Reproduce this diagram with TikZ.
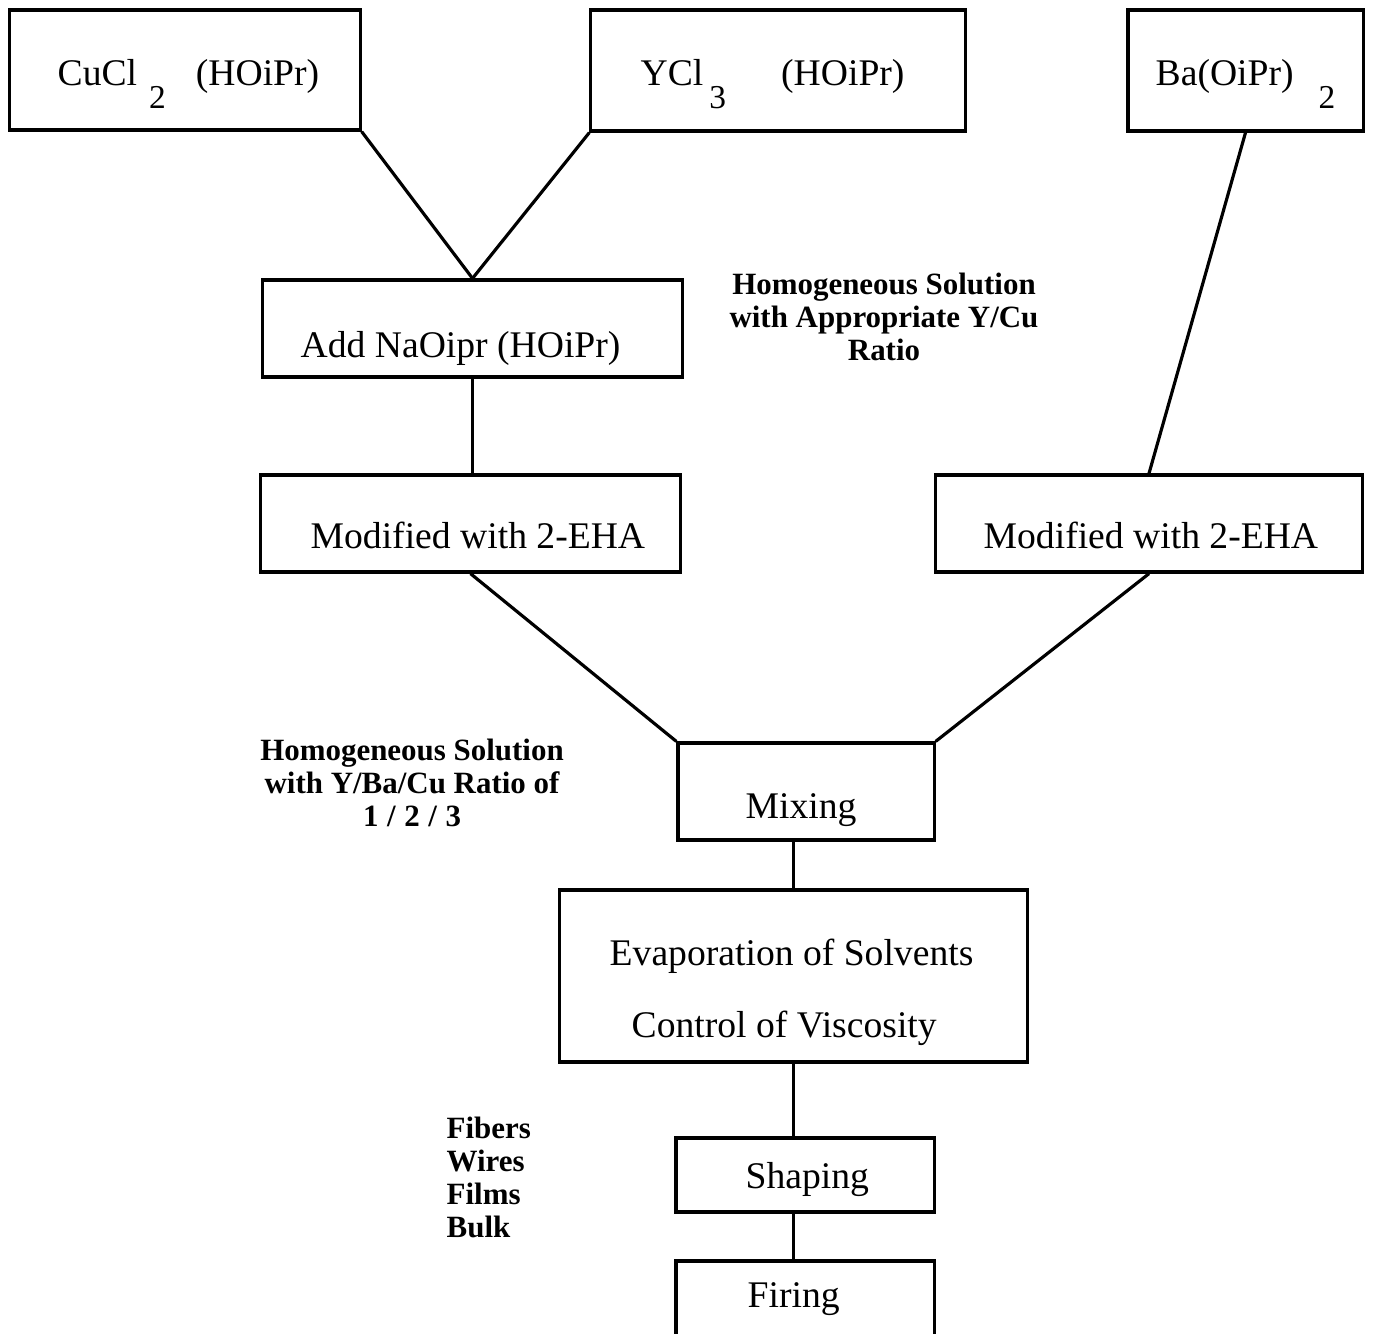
\documentclass[tikz,border=0pt]{standalone}
\usepackage{fontspec}
\setmainfont{Liberation Serif}
\usepackage{tikz}
\usetikzlibrary{positioning}
\newcommand{\lowsub}[1]{\raisebox{-0.23cm}{\fontsize{9.5}{9.5}\selectfont #1}}
\tikzset{
    box/.style = {rectangle, draw=black, line width=0.9pt, inner sep=0pt},
    maintext/.style = {inner sep=0pt, anchor=base west, font=\fontsize{10.7}{12}\selectfont},
    note/.style = {inner sep=0pt, anchor=base, align=center, font=\bfseries\fontsize{8.8}{9.35}\selectfont},
    link/.style = {line width=0.9pt}
}
\begin{document}
\begin{tikzpicture}[x=0.01cm, y=-0.01cm]
    \useasboundingbox (0,0) rectangle (1373,1333);

    % starting solutions
    \node[box, minimum width=3.5cm, minimum height=1.2cm] (cucl) at (185,70) {};
    \node[box, minimum width=3.74cm, minimum height=1.21cm] (ycl) at (778,70.5) {};
    \node[box, minimum width=2.35cm, minimum height=1.21cm] (ba) at (1245.5,70.5) {};
    \node[maintext] (cucltxt) at (57,85) {CuCl\hspace{0.12cm}\lowsub{2}\hspace{0.3cm}(HOiPr)};
    \node[maintext] (ycltxt) at (640,85) {YCl\hspace{0.06cm}\lowsub{3}\hspace{0.55cm}(HOiPr)};
    \node[maintext] (batxt) at (1155,85) {Ba(OiPr)\hspace{0.25cm}\lowsub{2}};

    % process steps
    \node[box, minimum width=4.19cm, minimum height=0.97cm] (add) at (472.5,328.5) {};
    \node[box, minimum width=4.19cm, minimum height=0.97cm] (modl) at (470.5,523.5) {};
    \node[box, minimum width=4.26cm, minimum height=0.97cm] (modr) at (1149,523.5) {};
    \node[box, minimum width=2.56cm, minimum height=0.97cm] (mix) at (806,791.5) {};
    \node[box, minimum width=4.67cm, minimum height=1.72cm] (evap) at (793.5,976) {};
    \node[box, minimum width=2.58cm, minimum height=0.74cm] (shap) at (805,1175) {};
    \node[box, minimum width=2.58cm, minimum height=0.84cm] (fir) at (805,1303) {};

    \node[maintext] (addtxt) at (300,357) {Add NaOipr (HOiPr)};
    \node[maintext] (modltxt) at (310,548) {Modified with 2-EHA};
    \node[maintext] (modrtxt) at (983,548) {Modified with 2-EHA};
    \node[maintext] (mixtxt) at (745,818) {Mixing};
    \node[maintext] (evaptxt) at (609,965) {Evaporation of Solvents};
    \node[maintext] (visctxt) at (631,1037) {Control of Viscosity};
    \node[maintext] (shaptxt) at (745,1188) {Shaping};
    \node[maintext] (firtxt) at (747,1307) {Firing};

    % notes (base = last line)
    \node[note] (ycunote) at (884,360) {Homogeneous Solution\\with Appropriate Y/Cu\\Ratio};
    \node[note] (ybacunote) at (412,826) {Homogeneous Solution\\with Y/Ba/Cu Ratio of\\1\;/\;2\;/\;3};
    \node[note, anchor=base west, align=left] (formnote) at (446,1237) {Fibers\\Wires\\Films\\Bulk};

    % connectors
    \draw[link] (cucl.south east) -- (add.north);
    \draw[link] (ycl.south west) -- (add.north);
    \draw[link] (ba.south) -- (modr.north);
    \draw[link] (add.south) -- (add.south |- modl.north);
    \draw[link] (modl.south) -- (mix.north west);
    \draw[link] (modr.south) -- (mix.north east);
    \draw[link] (evap.north |- mix.south) -- (evap.north);
    \draw[link] (evap.south) -- (evap.south |- shap.north);
    \draw[link] (shap.south -| evap.south) -- (fir.north -| evap.south);
\end{tikzpicture}
\end{document}
